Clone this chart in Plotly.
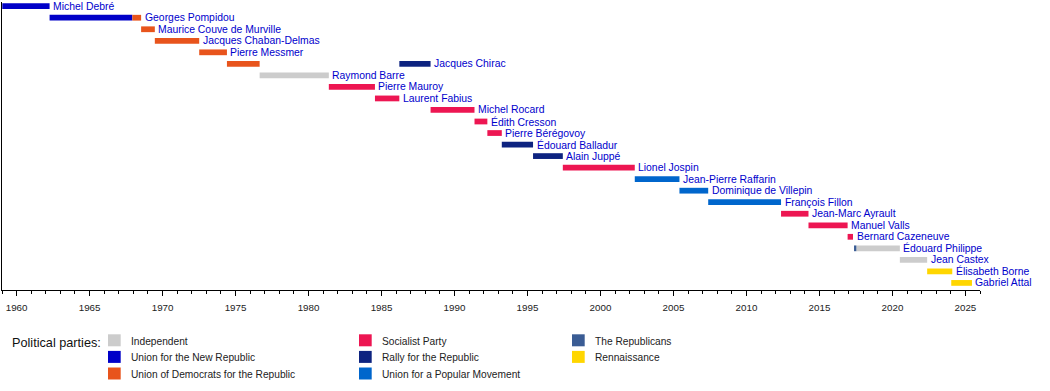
import plotly.graph_objects as go

# ---------------- data ----------------
pm_names = [
    "Michel Debré", "Georges Pompidou", "Maurice Couve de Murville",
    "Jacques Chaban-Delmas", "Pierre Messmer", "Jacques Chirac",
    "Raymond Barre", "Pierre Mauroy", "Laurent Fabius", "Michel Rocard",
    "Édith Cresson", "Pierre Bérégovoy", "Édouard Balladur", "Alain Juppé",
    "Lionel Jospin", "Jean-Pierre Raffarin", "Dominique de Villepin",
    "François Fillon", "Jean-Marc Ayrault", "Manuel Valls",
    "Bernard Cazeneuve", "Édouard Philippe", "Jean Castex",
    "Élisabeth Borne", "Gabriel Attal",
]

seg_pm = [
    "Michel Debré", "Georges Pompidou", "Georges Pompidou",
    "Maurice Couve de Murville", "Jacques Chaban-Delmas", "Pierre Messmer",
    "Jacques Chirac", "Raymond Barre", "Pierre Mauroy", "Laurent Fabius",
    "Jacques Chirac", "Michel Rocard", "Édith Cresson", "Pierre Bérégovoy",
    "Édouard Balladur", "Alain Juppé", "Lionel Jospin", "Jean-Pierre Raffarin",
    "Dominique de Villepin", "François Fillon", "Jean-Marc Ayrault",
    "Manuel Valls", "Bernard Cazeneuve", "Édouard Philippe", "Édouard Philippe",
    "Jean Castex", "Élisabeth Borne", "Gabriel Attal",
]
seg_party = [
    "UNR", "UNR", "UDR", "UDR", "UDR", "UDR", "UDR", "IND", "PS", "PS",
    "RPR", "PS", "PS", "PS", "RPR", "RPR", "PS", "UMP", "UMP", "UMP",
    "PS", "PS", "PS", "LR", "IND", "IND", "REN", "REN",
]
seg_start = [
    1959.02, 1962.26, 1967.93, 1968.53, 1969.47, 1972.51, 1974.41, 1976.65,
    1981.39, 1984.55, 1986.22, 1988.36, 1991.37, 1992.25, 1993.24, 1995.38,
    1997.42, 2002.35, 2005.41, 2007.38, 2012.37, 2014.25, 2016.93, 2017.37,
    2017.53, 2020.51, 2022.38, 2024.03,
]
seg_end = [
    1962.26, 1967.93, 1968.53, 1969.47, 1972.51, 1974.41, 1976.65, 1981.39,
    1984.55, 1986.22, 1988.36, 1991.37, 1992.25, 1993.24, 1995.38, 1997.42,
    2002.35, 2005.41, 2007.38, 2012.37, 2014.25, 2016.93, 2017.30, 2017.53,
    2020.51, 2022.38, 2024.10, 2025.45,
]

party_keys = ["IND", "UNR", "UDR", "PS", "RPR", "UMP", "LR", "REN"]
party_names = [
    "Independent", "Union for the New Republic",
    "Union of Democrats for the Republic", "Socialist Party",
    "Rally for the Republic", "Union for a Popular Movement",
    "The Republicans", "Rennaissance",
]
party_colors = [
    "#cccccc", "#0000c8", "#e8541c", "#ed1652",
    "#0d2380", "#0066cc", "#3a5c94", "#ffd600",
]

year_min, year_max = 1959, 2026
legend_title = "Political parties:"

# ---------------- layout constants ----------------
W_FIG, H_FIG = 1050, 391
M_L, M_R, M_T, M_B = 2, 70, 2, 101
PW = W_FIG - M_L - M_R
PH = H_FIG - M_T - M_B
FONT = "Liberation Sans, Arial, Helvetica, sans-serif"
LABEL_BLUE = "#0000cc"


def px2x(px):
    return (px - M_L) / PW


def py2y(py):
    return (M_T + PH - py) / PH


fig = go.Figure()

for key, name, col in zip(party_keys, party_names, party_colors):
    ys, xs, bs = [], [], []
    for p, pt, s, e in zip(seg_pm, seg_party, seg_start, seg_end):
        if pt == key:
            ys.append(pm_names.index(p))
            xs.append(e - s)
            bs.append(s)
    fig.add_trace(go.Bar(
        orientation="h", y=ys, x=xs, base=bs, width=0.5, name=name,
        marker=dict(color=col, line=dict(width=0)),
        showlegend=False, hoverinfo="skip",
    ))

# name labels after each PM's last bar
annotations = []
for i, p in enumerate(pm_names):
    last_end = max(e for q, e in zip(seg_pm, seg_end) if q == p)
    annotations.append(dict(
        x=last_end, y=i, xref="x", yref="y", text=p, showarrow=False,
        xanchor="left", yanchor="middle", xshift=1.5, yshift=0,
        font=dict(family=FONT, size=10.4, color=LABEL_BLUE),
    ))

# legend (manual, column-major)
col_swatch_px = [108, 359, 572]
row_center_px = 340.3
row_step_px = 16.6
sw_w, sw_h = 12.7, 12
shapes = []
for k, (name, col) in enumerate(zip(party_names, party_colors)):
    c, r = divmod(k, 3)
    cx = col_swatch_px[c]
    cy = row_center_px + r * row_step_px
    shapes.append(dict(
        type="rect", xref="paper", yref="paper",
        x0=px2x(cx), x1=px2x(cx + sw_w),
        y0=py2y(cy + sw_h / 2), y1=py2y(cy - sw_h / 2),
        fillcolor=col, line=dict(width=0), layer="above",
    ))
    annotations.append(dict(
        x=px2x(cx + 21), y=py2y(cy + 0.8), xref="paper", yref="paper",
        text=name, showarrow=False, xanchor="left", yanchor="middle",
        font=dict(family=FONT, size=10.2, color="#222222"),
    ))
annotations.append(dict(
    x=px2x(10), y=py2y(343), xref="paper", yref="paper",
    text=legend_title, showarrow=False, xanchor="left", yanchor="middle",
    font=dict(family=FONT, size=12.7, color="#111111"),
))

row_px = 11.53
first_px = 6.2
y_top = (M_T - first_px) / row_px
y_bot = (M_T + PH - first_px) / row_px

fig.update_layout(
    width=W_FIG, height=H_FIG,
    margin=dict(l=M_L, r=M_R, t=M_T, b=M_B, pad=0),
    paper_bgcolor="white", plot_bgcolor="white",
    barmode="overlay", showlegend=False,
    font=dict(family=FONT, size=10, color="#222222"),
    xaxis=dict(
        range=[year_min, year_max], showgrid=False, zeroline=False,
        showline=True, linecolor="black", linewidth=1,
        ticks="outside", ticklen=5, tickcolor="black", tickwidth=1,
        ticklabelstandoff=3,
        tick0=1960, dtick=5, tickfont=dict(family=FONT, size=9.8, color="#222222"),
        minor=dict(ticks="outside", ticklen=3, tickcolor="black", dtick=1, tick0=1960, showgrid=False),
        fixedrange=True,
    ),
    yaxis=dict(
        range=[y_bot, y_top], showgrid=False, zeroline=False,
        showline=True, linecolor="black", linewidth=1,
        showticklabels=False, ticks="", fixedrange=True,
    ),
    annotations=annotations, shapes=shapes,
)

fig.write_html(
    "out.html",
    config={"displayModeBar": False},
    post_script="document.body.style.margin='0';document.body.style.overflow='hidden';",
)
